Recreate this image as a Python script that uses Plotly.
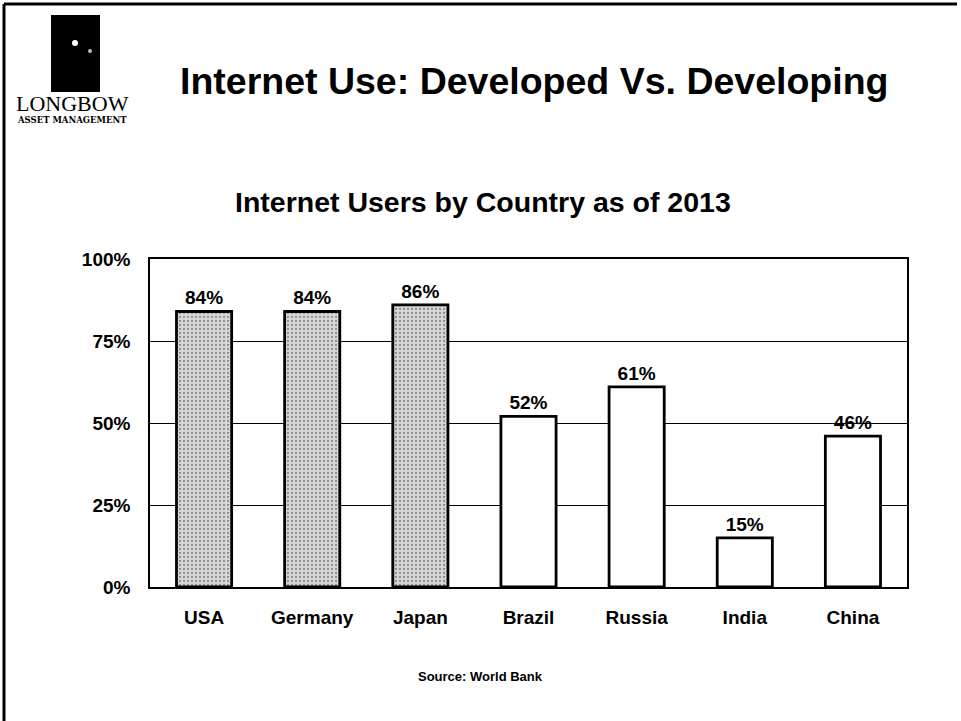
import plotly.graph_objects as go

# Internet users as share of population, 2013
countries = ["USA", "Germany", "Japan", "Brazil", "Russia", "India", "China"]
users_pct = [84, 84, 86, 52, 61, 15, 46]
developed = [True, True, True, False, False, False, False]
y_ticks = [0, 25, 50, 75, 100]
y_tick_labels = ["0%", "25%", "50%", "75%", "100%"]

W, H = 961, 721
L, R, T, B = 150, 907, 259, 587  # plot area in pixels


def px(x):
    return (x - L) / (R - L)


def py(y):
    return (B - y) / (B - T)


FONT = "Liberation Sans, Arial, sans-serif"
SERIF = "Liberation Serif, Times New Roman, serif"

fill_colors = ["#d8d8d8" if d else "white" for d in developed]
pattern_shapes = ["." if d else "" for d in developed]

fig = go.Figure(
    go.Bar(
        x=countries,
        y=users_pct,
        marker=dict(
            color=fill_colors,
            line=dict(color="black", width=2.8),
            pattern=dict(shape=pattern_shapes, fgcolor="#7a7a7a", size=4, solidity=0.25),
        ),
        text=[f"{v}%" for v in users_pct],
        textposition="outside",
        textfont=dict(family=FONT, size=19, color="black", weight="bold"),
        cliponaxis=False,
        width=0.51,
    )
)

fig.update_layout(
    width=W,
    height=H,
    margin=dict(l=L, r=W - R, t=T, b=H - B),
    paper_bgcolor="white",
    plot_bgcolor="white",
    showlegend=False,
    font=dict(family=FONT, color="black"),
    xaxis=dict(
        showline=True, linecolor="black", linewidth=1.5, mirror=True,
        ticks="", tickfont=dict(family=FONT, size=19, weight="bold"),
        ticklabelstandoff=12,
    ),
    yaxis=dict(
        range=[0, 100], tickvals=y_ticks, ticktext=y_tick_labels,
        showline=True, linecolor="black", linewidth=1.5, mirror=True,
        showgrid=True, gridcolor="black", gridwidth=1,
        ticks="", tickfont=dict(family=FONT, size=19, weight="bold"),
        ticklabelstandoff=14, zeroline=False,
    ),
)

annotations = [
    dict(text="Internet Use: Developed Vs. Developing", x=px(534), y=py(81),
         font=dict(family=FONT, size=37.5, weight="bold")),
    dict(text="Internet Users by Country as of 2013", x=px(483), y=py(202),
         font=dict(family=FONT, size=28.5, weight="bold")),
    dict(text="Source: World Bank", x=px(480), y=py(676),
         font=dict(family=FONT, size=13, weight="bold")),
    dict(text="LONGBOW", x=px(72), y=py(104),
         font=dict(family=SERIF, size=22)),
    dict(text="ASSET MANAGEMENT", x=px(72), y=py(120),
         font=dict(family="DejaVu Serif, serif", size=8.5, weight="bold")),
]
for a in annotations:
    a.update(xref="paper", yref="paper", showarrow=False, xanchor="center", yanchor="middle")
fig.update_layout(annotations=annotations)

shapes = [
    # page frame (top and left edges)
    dict(type="line", x0=px(4), x1=px(957), y0=py(4), y1=py(4), line=dict(color="black", width=3)),
    dict(type="line", x0=px(4), x1=px(4), y0=py(4), y1=py(721), line=dict(color="black", width=3)),
    # logo block
    dict(type="rect", x0=px(51), x1=px(100), y0=py(15), y1=py(92),
         fillcolor="black", line=dict(width=0)),
    dict(type="circle", x0=px(72), x1=px(78), y0=py(40), y1=py(46),
         fillcolor="white", line=dict(width=0)),
    dict(type="circle", x0=px(88), x1=px(92), y0=py(49), y1=py(53),
         fillcolor="#bbbbbb", line=dict(width=0)),
]
for s in shapes:
    s.update(xref="paper", yref="paper", layer="above")
fig.update_layout(shapes=shapes)

fig.write_html("out.html")
